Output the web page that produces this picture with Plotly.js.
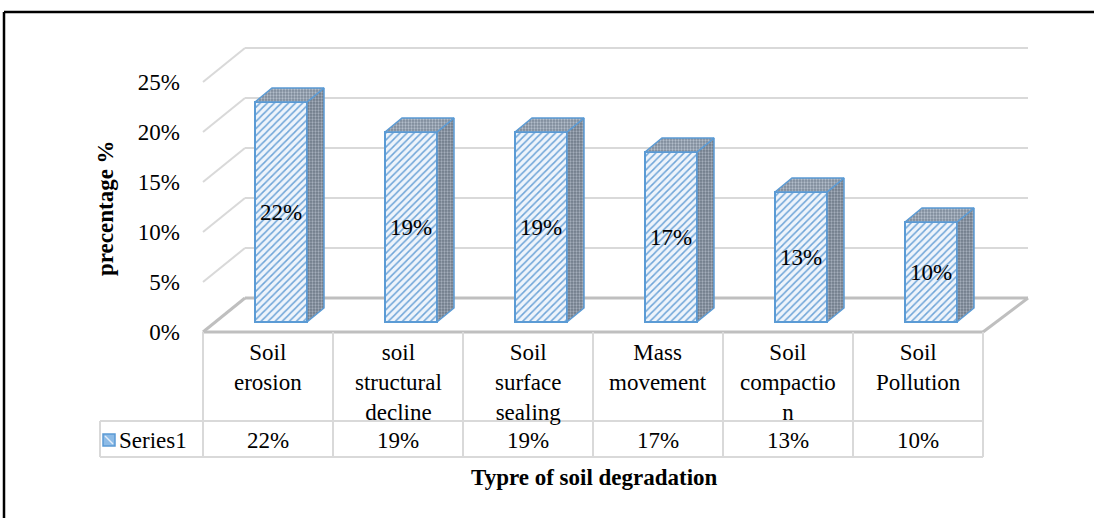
<!DOCTYPE html>
<html>
<head>
<meta charset="utf-8">
<script src="https://cdn.plot.ly/plotly-3.0.1.min.js"></script>
<style>html,body{margin:0;padding:0;background:#fff;}#chart{width:1094px;height:518px;}</style>
</head>
<body>
<div id="chart"></div>
<script>
// ---- data ----
const categories = ["Soil<br>erosion", "soil<br>structural<br>decline", "Soil<br>surface<br>sealing", "Mass<br>movement", "Soil<br>compactio<br>n", "Soil<br>Pollution"];
const values = [22, 19, 19, 17, 13, 10];
const seriesName = "Series1";
const yTicks = [0, 5, 10, 15, 20, 25];
const yTitle = "precentage %";
const xTitle = "Typre of soil degradation";

// ---- layout geometry (pixels) ----
const W = 1094, H = 518;
const L = 203, R = 1028, T = 40, B = 460;
const FRONT0 = 332, BAR0 = 322, BACK0 = 298, PXU = 10;   // y pixel of 0 on each plane, px per %
const COLW = 130, COL0 = 268;                           // column width and first column centre
const BACKDX = 42;
const px = x => (x - L) / (R - L);
const py = y => (B - y) / (B - T);
const FONT = "Liberation Serif, Times New Roman, serif";
const FS = 23;
const BLUE = "#5b9bd5";

const xs = values.map((v, i) => i);
const xRange = [(L - COL0) / COLW, (R - COL0) / COLW];
const yBar = [(BAR0 - B) / PXU, (BAR0 - T) / PXU];
const frontShift = (FRONT0 - BAR0) / PXU;   // front plane sits this many units below the bar plane

const barOffset = -0.1, barWidth = 0.4;
const depthX = 17 / COLW, depthY = 14 / PXU;

const traces = [];
traces.push({
  type: "bar", x: xs, y: values, name: seriesName,
  offset: barOffset, width: barWidth,
  marker: {color: "#e6f0fa", line: {color: BLUE, width: 2},
           pattern: {shape: "/", fgcolor: "#6fa5d8", bgcolor: "#eef4fb", size: 5, solidity: 0.3}},
  text: values.map(v => v + "%"), textposition: "inside", insidetextanchor: "middle",
  textangle: 0, textfont: {family: FONT, size: FS, color: "#000"},
  hoverinfo: "skip", showlegend: false
});
values.forEach((v, i) => {
  const x0 = i + barOffset, x1 = x0 + barWidth;
  // side face
  traces.push({type: "scatter", mode: "lines", fill: "toself",
    x: [x1, x1 + depthX, x1 + depthX, x1, x1], y: [0, depthY, v + depthY, v, 0],
    fillcolor: "#7f8b98", fillpattern: {shape: ".", fgcolor: "#a4aebb", bgcolor: "#6e7a88", size: 3, solidity: 0.45},
    line: {color: BLUE, width: 1.5}, hoverinfo: "skip", showlegend: false});
  // top face
  traces.push({type: "scatter", mode: "lines", fill: "toself",
    x: [x0, x0 + depthX, x1 + depthX, x1, x0], y: [v, v + depthY, v + depthY, v, v],
    fillcolor: "#8c99a8", fillpattern: {shape: ".", fgcolor: "#b2bdca", bgcolor: "#7c8998", size: 3, solidity: 0.45},
    line: {color: BLUE, width: 1.5}, hoverinfo: "skip", showlegend: false});
});

const shapes = [];
const line = (x0, y0, x1, y1, color, width, layer) => shapes.push({type: "line", xref: "paper", yref: "paper",
  x0: px(x0), y0: py(y0), x1: px(x1), y1: py(y1), line: {color: color, width: width}, layer: layer || "below"});

// walls / gridlines
yTicks.forEach(t => {
  const fy = FRONT0 - t * PXU, by = BACK0 - t * PXU;
  const c = t === 0 ? "#bfbfbf" : "#d9d9d9", w = t === 0 ? 3 : 2;
  line(L, fy, L + BACKDX, by, c, w);
  line(L + BACKDX, by, R, by, c, w);
});
const frontRight = COL0 + COLW * (values.length - 0.5);
line(R, BACK0, frontRight, FRONT0, "#bfbfbf", 3);
line(L, FRONT0, frontRight, FRONT0, "#bfbfbf", 3);

// data table
const ROW1 = 421, ROW2 = 457, LEG0 = 100;
for (let k = 0; k <= values.length; k++) line(L + COLW * k, FRONT0, L + COLW * k, ROW2, "#d9d9d9", 2, "above");
line(LEG0, ROW1, frontRight, ROW1, "#d9d9d9", 2, "above");
line(LEG0, ROW2, frontRight, ROW2, "#d9d9d9", 2, "above");
line(LEG0, ROW1, LEG0, ROW2, "#d9d9d9", 2, "above");
shapes.push({type: "rect", xref: "paper", yref: "paper", x0: px(103), x1: px(115), y0: py(446), y1: py(434),
  fillcolor: "#8dbbe6", line: {color: BLUE, width: 1.5}, layer: "above"});
shapes.push({type: "line", xref: "paper", yref: "paper", x0: px(105), x1: px(113), y0: py(436), y1: py(444),
  line: {color: "#e3eef9", width: 1.5}, layer: "above"});

// outer frame
line(4, 12, W + 10, 12, "#000", 2.5, "above");
line(4, 12, 4, H + 10, "#000", 2.5, "above");

const annotations = [];
categories.forEach((c, i) => annotations.push({xref: "x", yref: "paper", x: i, y: py(338), yanchor: "top", xanchor: "center",
  text: c, showarrow: false, align: "center", font: {family: FONT, size: FS, color: "#000"}}));
values.forEach((v, i) => annotations.push({xref: "x", yref: "paper", x: i, y: py(440), yanchor: "middle", xanchor: "center",
  text: v + "%", showarrow: false, font: {family: FONT, size: FS, color: "#000"}}));
annotations.push({xref: "paper", yref: "paper", x: px(117), y: py(440), xanchor: "left", yanchor: "middle",
  text: seriesName, showarrow: false, font: {family: FONT, size: FS, color: "#000"}});
annotations.push({xref: "paper", yref: "paper", x: px(594), y: py(477), xanchor: "center", yanchor: "middle",
  text: "<b>" + xTitle + "</b>", showarrow: false, font: {family: FONT, size: FS, color: "#000"}});
annotations.push({xref: "paper", yref: "paper", x: px(105), y: py(208), xanchor: "center", yanchor: "middle", textangle: -90,
  text: "<b>" + yTitle + "</b>", showarrow: false, font: {family: FONT, size: FS, color: "#000"}});

const layout = {
  width: W, height: H,
  margin: {l: L, r: W - R, t: T, b: H - B},
  paper_bgcolor: "#fff", plot_bgcolor: "rgba(0,0,0,0)",
  showlegend: false,
  xaxis: {range: xRange, showgrid: false, zeroline: false, showline: false, showticklabels: false, ticks: "", fixedrange: true},
  yaxis: {range: yBar, tickvals: yTicks.map(t => t - frontShift), ticktext: yTicks.map(t => t + "%"),
          showgrid: false, zeroline: false, showline: false,
          ticks: "", ticklabelstandoff: 22, tickfont: {family: FONT, size: FS, color: "#000"}},
  shapes: shapes,
  annotations: annotations
};
Plotly.newPlot("chart", traces, layout, {staticPlot: true, displayModeBar: false});
</script>
</body>
</html>
